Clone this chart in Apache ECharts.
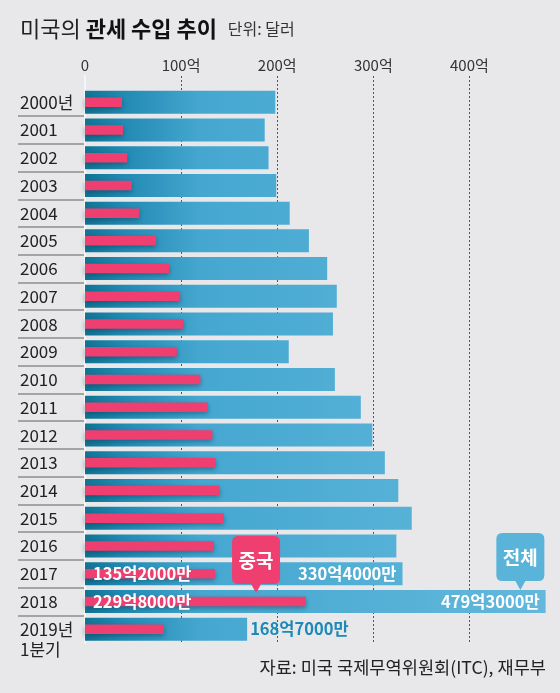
<!DOCTYPE html>
<html><head><meta charset="utf-8">
<script src="https://cdn.jsdelivr.net/npm/echarts@6/dist/echarts.min.js"></script>
<style>html,body{margin:0;padding:0;background:#e8e8ea}#c{width:560px;height:693px}</style>
</head><body><div id="c"></div>
<script>
const years = ['2000','2001','2002','2003','2004','2005','2006','2007','2008','2009','2010','2011','2012','2013','2014','2015','2016','2017','2018','2019'];
const yearLabels = ['2000년','2001','2002','2003','2004','2005','2006','2007','2008','2009','2010','2011','2012','2013','2014','2015','2016','2017','2018',' \n2019년\n1분기'];
const totalValues = [198,187,191,199,213,233,252,262,258,212,260,287,299,312,326,340,324,330.4,479.3,168.7];
const chinaValues = [38.5,39.5,44,48.5,56.5,74,87.5,99,102.5,95.5,120,128,132.5,136,140,144.5,134,135.2,229.8,82];
const xTickLabels = ['0','100억','200억','300억','400억'];
const totalLabelled = ['2017','2018','2019'];
const chinaLabelled = ['2017','2018'];

const FONT = '"Noto Sans CJK KR","Noto Sans",sans-serif';
const fmt = v => { const a = Math.floor(v); const b = Math.round((v - a) * 10000); return a + '억' + b + '만'; };
const L = 85, R = 13.7, T = 88.3, B = 49.9;
const calloutPath = 'path://M6,0H42Q48,0 48,6V42Q48,48 42,48H29L24,57L19,48H6Q0,48 0,42V6Q0,0 6,0Z';

const blueGrad = {type:'linear', x:85, y:0, x2:546, y2:0, global:true,
  colorStops:[{offset:0,color:'#107393'},{offset:0.08,color:'#2189b2'},{offset:0.25,color:'#45a7d0'},{offset:1,color:'#63b8dc'}]};

const totalData = totalValues.map((v,i) => {
  const y = years[i];
  if (!totalLabelled.includes(y)) return v;
  const outside = y === '2019';
  return {value:v, label:{show:true, position: outside ? 'right' : 'insideRight', distance: outside ? 3 : 6,
    formatter: p => fmt(p.value), color: outside ? '#1b8ab8' : '#fff', fontSize:16.5, fontWeight:'bold'}};
});
const chinaData = chinaValues.map((v,i) => {
  const y = years[i];
  if (!chinaLabelled.includes(y)) return v;
  return {value:v, label:{show:true, position:'insideLeft', distance:8, formatter: p => fmt(p.value),
    color:'#fff', fontSize:16.5, fontWeight:'bold'}};
});

const chart = echarts.init(document.getElementById('c'));
chart.setOption({
  animation:false,
  backgroundColor:'#e8e8ea',
  textStyle:{fontFamily:FONT},
  title:[
    {left:20, top:18, padding:0, text:'{a|미국의 }{b|관세 수입 추이}{c|   단위: 달러}',
     textStyle:{fontWeight:'normal', rich:{
       a:{fontSize:22,fontWeight:'normal',color:'#222',fontFamily:FONT},
       b:{fontSize:22,fontWeight:'bold',color:'#111',fontFamily:FONT},
       c:{fontSize:16,fontWeight:'normal',color:'#333',fontFamily:FONT}}}},
    {right:14, top:659, padding:0, text:'자료: 미국 국제무역위원회(ITC), 재무부',
     textStyle:{fontSize:17.6,fontWeight:'normal',color:'#222',fontFamily:FONT}}
  ],
  grid:[
    {left:L, right:R, top:T, bottom:B},
    {left:18, right:475, top:T, bottom:B},
    {left:L, right:R, top:76, bottom:B}
  ],
  xAxis:[
    {gridIndex:0, type:'value', min:0, max:480, show:false},
    {gridIndex:1, type:'value', show:false},
    {gridIndex:2, type:'value', position:'top', min:0, max:480, interval:100,
     axisLine:{show:false}, axisTick:{show:false},
     axisLabel:{margin:3, fontSize:15, color:'#333', showMaxLabel:false, formatter: v => xTickLabels[v/100] || ''},
     splitLine:{show:true, showMinLine:false, showMaxLine:false, lineStyle:{type:[2,2], color:'#555', width:1}}}
  ],
  yAxis:[
    {gridIndex:0, type:'category', data:years, inverse:true,
     axisLine:{show:false}, axisTick:{show:false}, splitLine:{show:false},
     axisLabel:{align:'left', margin:65, fontSize:17, color:'#222', lineHeight:20, interval:0,
       showMinLabel:true, showMaxLabel:true, formatter:(v,i) => yearLabels[i]}},
    {gridIndex:0, type:'category', data:years, inverse:true, show:false},
    {gridIndex:1, type:'category', data:years, inverse:true,
     axisLine:{show:false}, axisTick:{show:false}, axisLabel:{show:false},
     splitLine:{show:true, showMinLine:false, showMaxLine:false, lineStyle:{color:'#8e8e8e', width:1.5}}},
    {gridIndex:2, type:'value', axisLine:{show:true, lineStyle:{color:'#f6f6f7', width:2}},
     axisLabel:{show:false}, axisTick:{show:false}, splitLine:{show:false}}
  ],
  series:[
    {name:'전체', type:'bar', xAxisIndex:0, yAxisIndex:0, barWidth:23, data:totalData,
     itemStyle:{color:blueGrad},
     markPoint:{symbol:calloutPath, symbolSize:[48,57], symbolOffset:[0,-40],
       itemStyle:{color:'#5ab3d9'},
       label:{show:true, formatter:'전체', color:'#fff', fontSize:19, fontWeight:'bold', offset:[0,-4]},
       data:[{name:'전체', coord:[453,'2018']}]}},
    {name:'중국', type:'bar', xAxisIndex:0, yAxisIndex:1, barWidth:9.5, data:chinaData,
     itemStyle:{color:'#ee3f70', shadowColor:'rgba(0,50,80,0.45)', shadowBlur:5, shadowOffsetY:2},
     markPoint:{symbol:calloutPath, symbolSize:[48,57], symbolOffset:[0,-37],
       itemStyle:{color:'#ee3f70', shadowBlur:0},
       label:{show:true, formatter:'중국', color:'#fff', fontSize:19, fontWeight:'bold', offset:[0,-4]},
       data:[{name:'중국', coord:[178,'2018']}]}}
  ]
});
</script></body></html>
